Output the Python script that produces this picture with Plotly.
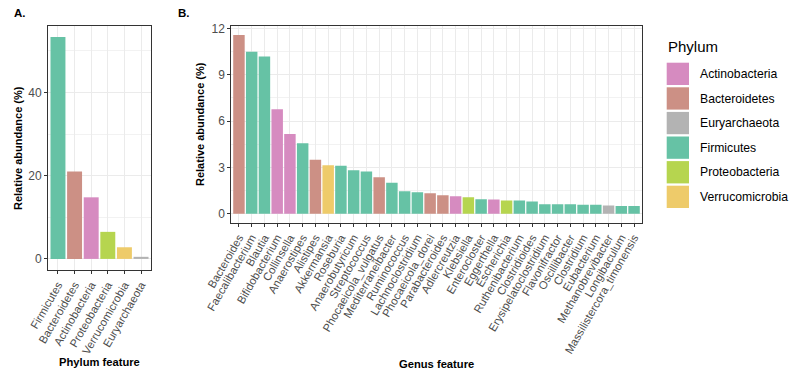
import plotly.graph_objects as go

# ---------------- data ----------------
phyla = ["Firmicutes", "Bacteroidetes", "Actinobacteria", "Proteobacteria",
         "Verrucomicrobia", "Euryarchaeota"]
phylum_abundance = [53.3, 21.0, 14.8, 6.5, 2.8, 0.5]

genera = ["Bacteroides", "Faecalibacterium", "Blautia", "Bifidobacterium", "Collinsella",
          "Anaerostipes", "Alistipes", "Akkermansia", "Roseburia", "Anaerobutyricum",
          "Streptococcus", "Phocaeicola_vulgatus", "Mediterraneibacter", "Ruminococcus",
          "Lachnoclostridium", "Phocaeicola_dorei", "Parabacteroides", "Adlercreutzia",
          "Klebsiella", "Enterocloster", "Eggerthella", "Escherichia", "Ruthenibacterium",
          "Clostridioides", "Erysipelatoclostridium", "Flavonifractor", "Oscillibacter",
          "Clostridium", "Eubacterium", "Methanobrevibacter", "Longibaculum",
          "Massilistercora_timonensis"]
genus_abundance = [11.57, 10.48, 10.18, 6.76, 5.16, 4.56, 3.49, 3.14, 3.10, 2.82,
                   2.74, 2.37, 2.01, 1.45, 1.39, 1.33, 1.20, 1.13, 1.07, 0.94,
                   0.92, 0.86, 0.86, 0.79, 0.62, 0.62, 0.62, 0.58, 0.58, 0.53,
                   0.51, 0.51]
genus_phylum = ["Bacteroidetes", "Firmicutes", "Firmicutes", "Actinobacteria", "Actinobacteria",
                "Firmicutes", "Bacteroidetes", "Verrucomicrobia", "Firmicutes", "Firmicutes",
                "Firmicutes", "Bacteroidetes", "Firmicutes", "Firmicutes",
                "Firmicutes", "Bacteroidetes", "Bacteroidetes", "Actinobacteria",
                "Proteobacteria", "Firmicutes", "Actinobacteria", "Proteobacteria", "Firmicutes",
                "Firmicutes", "Firmicutes", "Firmicutes", "Firmicutes",
                "Firmicutes", "Firmicutes", "Euryarchaeota", "Firmicutes",
                "Firmicutes"]

legend_order = ["Actinobacteria", "Bacteroidetes", "Euryarchaeota", "Firmicutes",
                "Proteobacteria", "Verrucomicrobia"]
palette = {"Actinobacteria": "#D68BC0", "Bacteroidetes": "#CC9085",
           "Euryarchaeota": "#B3B3B3", "Firmicutes": "#66C2A5",
           "Proteobacteria": "#B6D54F", "Verrucomicrobia": "#EECB6A"}

# ---------------- layout helpers ----------------
W, H = 793, 375
FONT = "Liberation Sans, Arial, sans-serif"
def px(x):
    return x / W
def py(y):
    return 1 - y / H

fig = go.Figure()
fig.add_trace(go.Bar(x=phyla, y=phylum_abundance, width=0.9,
                     marker=dict(color=[palette[p] for p in phyla], line=dict(width=0)),
                     xaxis="x", yaxis="y", showlegend=False))
fig.add_trace(go.Bar(x=genera, y=genus_abundance, width=0.9,
                     marker=dict(color=[palette[p] for p in genus_phylum], line=dict(width=0)),
                     xaxis="x2", yaxis="y2", showlegend=False))

def xaxis_style(cats, domain, anchor):
    return dict(domain=domain, anchor=anchor, type="category",
                range=[-0.6, len(cats) - 0.4], automargin=False,
                tickmode="array", tickvals=cats, ticktext=cats, tickangle=-60,
                tickfont=dict(family=FONT, size=11.3, color="#4D4D4D"),
                ticks="outside", ticklen=3, tickcolor="#333333", tickwidth=1,
                showgrid=True, gridcolor="#EBEBEB", gridwidth=1,
                showline=True, mirror=True, linecolor="#333333", linewidth=1,
                zeroline=False, fixedrange=True)

def yaxis_style(rng, dtick, domain, anchor):
    return dict(domain=domain, anchor=anchor, range=rng, dtick=dtick, tick0=0,
                automargin=False,
                tickfont=dict(family=FONT, size=12, color="#4D4D4D"),
                ticks="outside", ticklen=3, tickcolor="#333333", tickwidth=1,
                showgrid=True, gridcolor="#EBEBEB", gridwidth=1,
                minor=dict(dtick=dtick / 2, tick0=0, showgrid=True,
                           gridcolor="#F2F2F2", gridwidth=0.6),
                showline=True, mirror=True, linecolor="#333333", linewidth=1,
                zeroline=False, fixedrange=True)

ymaxA = max(phylum_abundance)
ymaxB = max(genus_abundance)
fig.update_layout(
    width=W, height=H, margin=dict(l=0, r=0, t=0, b=0, pad=0),
    paper_bgcolor="white", plot_bgcolor="white", bargap=0.1,
    font=dict(family=FONT),
    xaxis=xaxis_style(phyla, [px(48), px(151)], "y"),
    yaxis=yaxis_style([-0.05 * ymaxA, 1.05 * ymaxA], 20, [py(270), py(26)], "x"),
    xaxis2=xaxis_style(genera, [px(231.3), px(641.7)], "y2"),
    yaxis2=yaxis_style([-0.05 * ymaxB, 1.05 * ymaxB], 3, [py(222.7), py(26)], "x2"),
)

ann = []
def text(x, y, s, size, bold=False, angle=0, xanchor="center", color="black"):
    ann.append(dict(x=px(x), y=py(y), xref="paper", yref="paper", text=s, showarrow=False,
                    xanchor=xanchor, yanchor="middle", textangle=angle,
                    font=dict(family=FONT, size=size, color=color)))

text(12, 13, "<b>A.</b>", 11.5, xanchor="left")
text(176, 13, "<b>B.</b>", 11.5, xanchor="left")
text(18, 148, "<b>Relative abundance (%)</b>", 11, angle=-90)
text(200, 124, "<b>Relative abundance (%)</b>", 11, angle=-90)
text(99.5, 362, "<b>Phylum feature</b>", 11.2)
text(436.5, 364, "<b>Genus feature</b>", 11.2)

# legend
text(666, 47, "Phylum", 15, xanchor="left")
shapes = []
for i, name in enumerate(legend_order):
    top = 62.7 + i * 24.6
    shapes.append(dict(type="rect", xref="paper", yref="paper",
                       x0=px(666.7), x1=px(689), y0=py(top + 22.3), y1=py(top),
                       fillcolor=palette[name], line=dict(width=0)))
    text(698, top + 11.2, name, 12.2, xanchor="left")

fig.update_layout(annotations=ann, shapes=shapes)
fig.write_html("out.html")
